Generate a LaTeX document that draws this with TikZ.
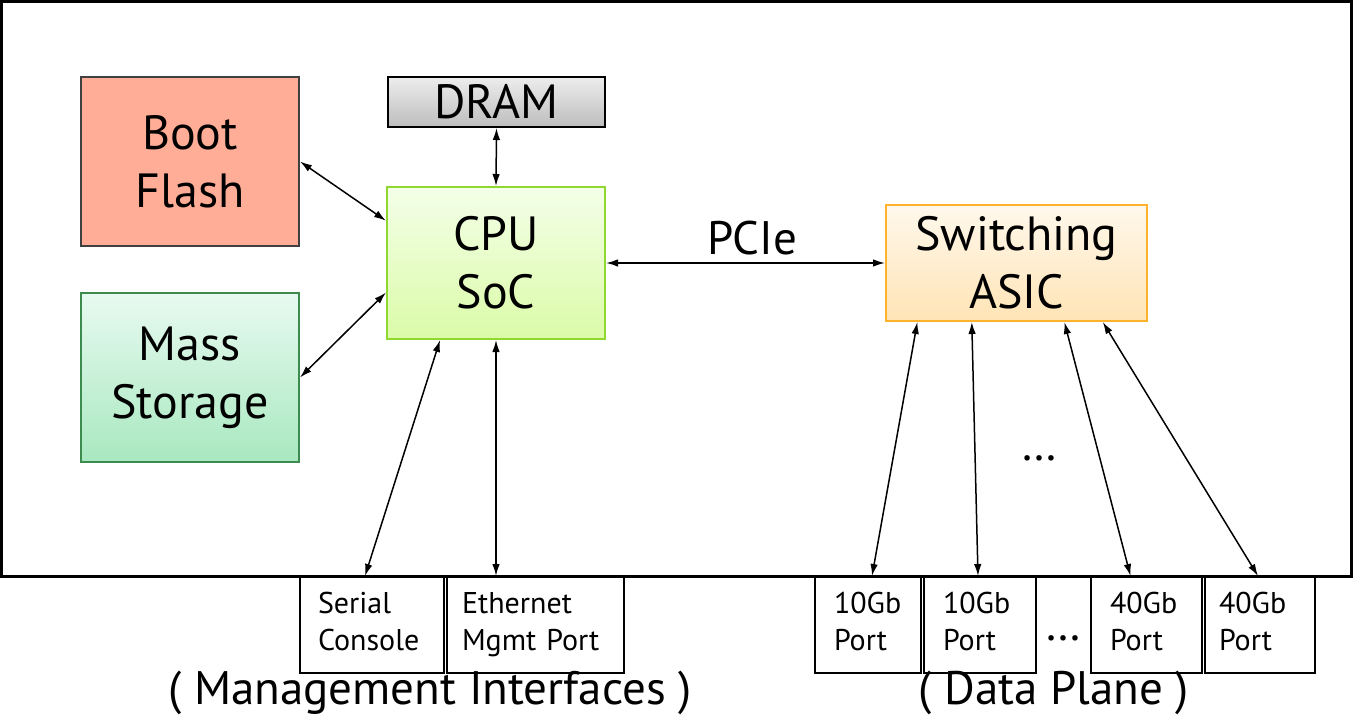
\documentclass[tikz,border=0pt]{standalone}
\usepackage{fontspec}
\setmainfont{PT Sans}
\usetikzlibrary{arrows.meta,calc}
\definecolor{bootfill}{HTML}{FFAD96}
\definecolor{bootdraw}{HTML}{404040}
\definecolor{masstop}{HTML}{E8FAF0}
\definecolor{massbot}{HTML}{A8E8C0}
\definecolor{massdraw}{HTML}{3C8C50}
\definecolor{dramtop}{HTML}{EDEDED}
\definecolor{drambot}{HTML}{BDBDBD}
\definecolor{cputop}{HTML}{F3FFE8}
\definecolor{cpubot}{HTML}{DBFBA8}
\definecolor{cpudraw}{HTML}{90D830}
\definecolor{asictop}{HTML}{FFF8EC}
\definecolor{asicbot}{HTML}{FFE4B5}
\definecolor{asicdraw}{HTML}{FFB22A}
\tikzset{
  blk/.style={draw, line width=2pt, inner sep=0pt, align=center,
    font=\fontsize{48}{58}\selectfont},
  portbox/.style={draw, line width=2pt, inner sep=0pt, minimum height=96pt,
    text width=#1, align=left, font=\fontsize{30}{37}\selectfont},
  link/.style={line width=1.5pt, {Latex[length=12pt,width=7.5pt]}-{Latex[length=12pt,width=7.5pt]}},
  biglbl/.style={font=\fontsize{47}{52}\selectfont, inner sep=0pt}
}
\begin{document}
\begin{tikzpicture}[x=1pt,y=-1pt]
\useasboundingbox (0,0) rectangle (1354,719);
\fill[white] (0,0) rectangle (1354,719);
\draw[line width=3pt] (1.5,1.5) rectangle (1351.5,576);

\node[blk, draw=bootdraw, fill=bootfill, minimum width=218pt, minimum height=169pt] (boot) at (190,161.5) {Boot\\Flash};
\node[blk, draw=massdraw, top color=masstop, bottom color=massbot, minimum width=218pt, minimum height=169pt] (mass) at (190,377.5) {Mass\\Storage};
\node[blk, draw=black, top color=dramtop, bottom color=drambot, minimum width=217pt, minimum height=50pt] (dram) at (496.5,102) {DRAM};
\node[blk, draw=cpudraw, top color=cputop, bottom color=cpubot, minimum width=218pt, minimum height=152pt] (cpu) at (496,263) {CPU\\SoC};
\node[blk, draw=asicdraw, top color=asictop, bottom color=asicbot, minimum width=261pt, minimum height=116pt] (asic) at (1016.5,263) {Switching\\ASIC};

\node[portbox=108pt, minimum width=144pt] (serial) at (372,625) {\strut Serial\\Console\strut};
\node[portbox=147pt, minimum width=177pt] (eth) at (535.5,625) {\strut Ethernet\\Mgmt Port\strut};
\node[portbox=68pt, minimum width=106pt] (p1) at (868,625) {\strut 10Gb\\Port\strut};
\node[portbox=74pt, minimum width=112pt] (p2) at (980,625) {\strut 10Gb\\Port\strut};
\node[portbox=73pt, minimum width=111pt] (p3) at (1146.5,625) {\strut 40Gb\\Port\strut};
\node[portbox=82pt, minimum width=110pt] (p4) at (1260,625) {\strut 40Gb\\Port\strut};

\node[biglbl] (pcie) at (752,238) {PCIe};
\node[biglbl] (dots1) at (1039,458) {\dots};
\node[biglbl] (dots2) at (1063,638) {\dots};
\node[biglbl] (mgmt) at (430,693) {( Management Interfaces )};
\node[biglbl] (dplane) at (1054,693) {( Data Plane )};

\draw[link] (boot.east) -- (cpu.159);
\draw[link] (mass.east) -- (cpu.195);
\draw[link] (dram.south) -- (cpu.north);
\draw[link] (cpu.east) -- (asic.west);
\draw[link] (cpu.234) -- ($(serial.north)+(-7,0)$);
\draw[link] (cpu.south) -- (cpu.south |- eth.north);
\draw[link] ($(asic.south west)!0.123!(asic.south east)$) -- ($(p1.north)+(4,0)$);
\draw[link] ($(asic.south west)!0.33!(asic.south east)$) -- ($(p2.north)+(-2,0)$);
\draw[link] ($(asic.south west)!0.682!(asic.south east)$) -- ($(p3.north)+(-16,0)$);
\draw[link] ($(asic.south west)!0.828!(asic.south east)$) -- ($(p4.north)+(-2,0)$);
\end{tikzpicture}
\end{document}
